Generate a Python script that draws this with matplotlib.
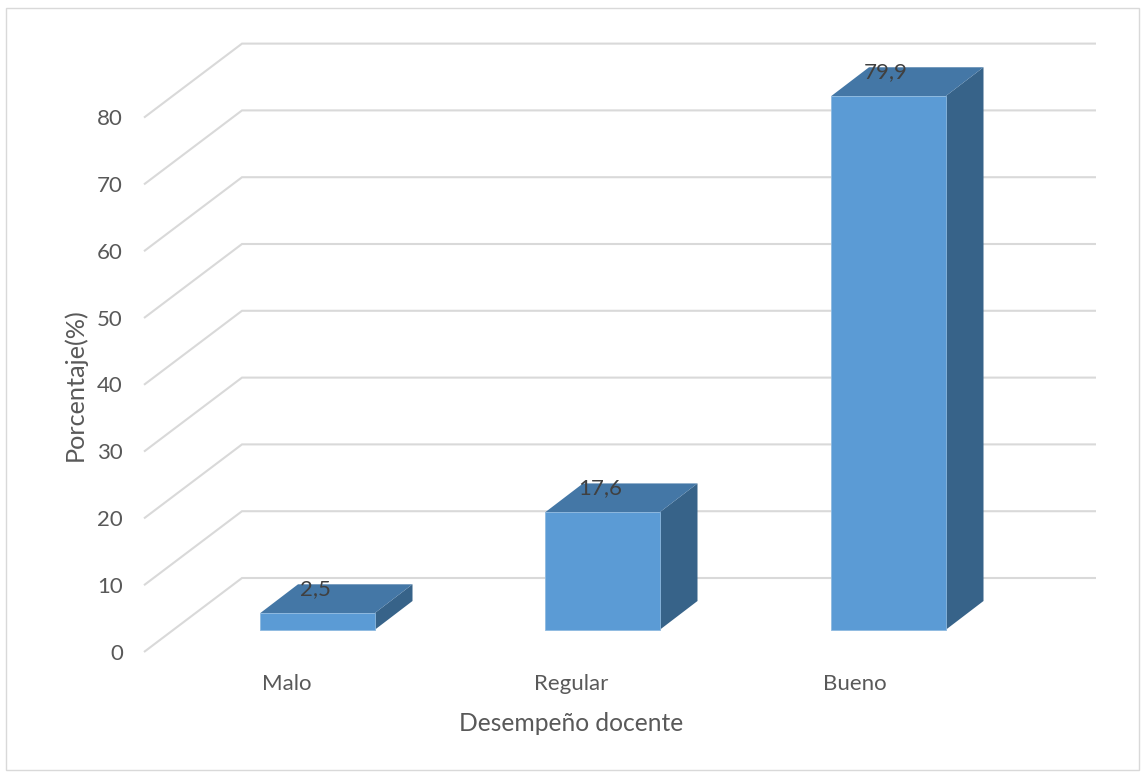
import matplotlib
matplotlib.use("Agg")
import matplotlib.pyplot as plt
from matplotlib.patches import Polygon, Rectangle

plt.rcParams["font.family"] = ["Lato", "DejaVu Sans"]

categorias = ["Malo", "Regular", "Bueno"]
porcentajes = [2.5, 17.6, 79.9]
marcas = [0, 10, 20, 30, 40, 50, 60, 70, 80]
etiquetas = ["2,5", "17,6", "79,9"]

W, H = 1145, 772
fig = plt.figure(figsize=(W / 100, H / 100), dpi=100)
ax = fig.add_axes([0, 0, 1, 1])
ax.set_xlim(0, W)
ax.set_ylim(H, 0)
ax.axis("off")

# borde exterior
ax.add_patch(Rectangle((6, 8), 1133, 762, fill=False, ec="#d9d9d9", lw=1))

# escala: 6.68 px por punto, base de las barras en 630 px
y0 = 630
paso = 6.68
dx, dy = 38, -29     # profundidad de la barra
piso_dx, piso_dy = 98, -74  # profundidad de la pared
desfase = 22         # el eje va por delante de la base de las barras


def py(v):
    return y0 - v * paso


for m in marcas:
    y_frente = py(m) + desfase
    ax.plot([144, 144 + piso_dx, 1096], [y_frente, y_frente + piso_dy, y_frente + piso_dy],
            color="#d9d9d9", lw=1.5, zorder=1, solid_joinstyle="miter", solid_capstyle="butt")
    ax.text(123, y_frente + 1.5, str(m), ha="right", va="center", fontsize=16, color="#595959")

xs = [260, 545, 831]
ancho = 114.5
for x, v, etq in zip(xs, porcentajes, etiquetas):
    top = py(v)
    ax.add_patch(Polygon([(x + ancho, top), (x + ancho + dx, top + dy), (x + ancho + dx, y0 + dy), (x + ancho, y0)],
                         fc="#376389", ec="none", zorder=2))
    ax.add_patch(Polygon([(x, top), (x + dx, top + dy), (x + ancho + dx, top + dy), (x + ancho, top)],
                         fc="#4477a6", ec="none", zorder=2))
    ax.add_patch(Rectangle((x, top), ancho, y0 - top, fc="#5b9bd5", ec="#8db9e0", lw=0.6, zorder=3))
    ax.text(x + 55, top - 24, etq, ha="center", va="center", fontsize=16, color="#404040", zorder=4)

for x, c in zip([287, 571, 855], categorias):
    ax.text(x, 684, c, ha="center", va="center", fontsize=16, color="#595959")

ax.text(571, 723.5, "Desempeño docente", ha="center", va="center", fontsize=17.7, color="#595959")
ax.text(75, 385, "Porcentaje(%)", ha="center", va="center", rotation=90, fontsize=18.2, color="#595959")

fig.savefig("out.png", dpi=100)
